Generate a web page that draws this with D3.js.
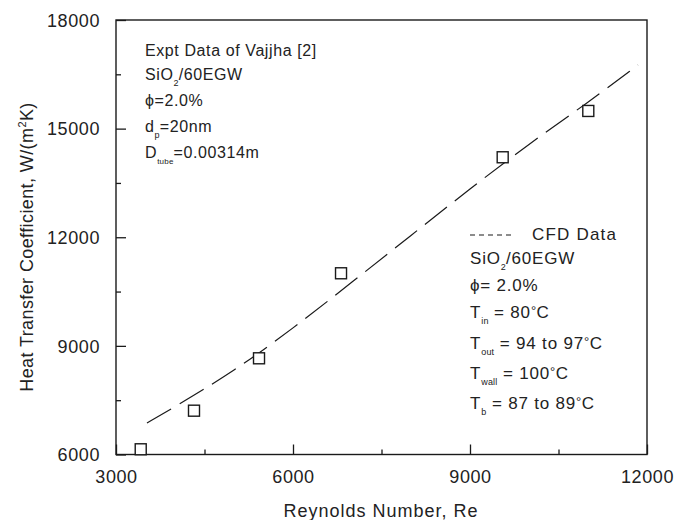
<!DOCTYPE html>
<html><head><meta charset="utf-8">
<script src="https://cdn.jsdelivr.net/npm/d3@7"></script>
<style>
html,body{margin:0;padding:0;background:#fff;}
svg{display:block;font-family:"Liberation Sans",Arial,sans-serif;}
</style></head>
<body><svg id="chart" width="675" height="520"></svg>
<script>
// ---- data ----
const exptRe = [3419, 4322, 5424, 6814, 9554, 11005];
const exptH  = [6144, 7210, 8657, 11005, 14209, 15488];
const cfdRe  = [3525, 4000, 5000, 6000, 7000, 8000, 9000, 10000, 11000, 11848];
const cfdH   = [6870, 7320, 8300, 9480, 10760, 12050, 13340, 14580, 15720, 16758];
const xTicks = [3000, 6000, 9000, 12000];
const xMinor = [4500, 7500, 10500];
const yTicks = [6000, 9000, 12000, 15000, 18000];
const yMinor = [7500, 10500, 13500, 16500];
const xTitle = "Reynolds Number, Re";
const yTitle = [{t:"Heat Transfer Coefficient, W/(m"},{t:"2",sup:true},{t:"K)"}];
const leftNotes = [
  [{t:"Expt Data of Vajjha [2]"}],
  [{t:"SiO"},{t:"2",sub:true},{t:"/60EGW"}],
  [{t:"\u03d5=2.0%"}],
  [{t:"d"},{t:"p",sub:true},{t:"=20nm"}],
  [{t:"D"},{t:"tube",sub:true,tiny:true},{t:"=0.00314m"}]
];
const rightNotes = [
  [{t:"SiO"},{t:"2",sub:true},{t:"/60EGW"}],
  [{t:"\u03d5= 2.0%"}],
  [{t:"T"},{t:"in",sub:true},{t:" = 80"},{t:"\u00b0",deg:true},{t:"C"}],
  [{t:"T"},{t:"out",sub:true},{t:" = 94 to 97"},{t:"\u00b0",deg:true},{t:"C"}],
  [{t:"T"},{t:"wall",sub:true},{t:" = 100"},{t:"\u00b0",deg:true},{t:"C"}],
  [{t:"T"},{t:"b",sub:true},{t:" = 87 to 89"},{t:"\u00b0",deg:true},{t:"C"}]
];
const cfdLabel = "CFD Data";

// ---- layout ----
const svg = d3.select("#chart");
const L = 116, R = 647, T = 20, B = 454.5;
const x = d3.scaleLinear().domain([3000, 12000]).range([L, R]);
const y = d3.scaleLinear().domain([6000, 18000]).range([B, T]);
const ink = "#1a1a1a";

// frame
svg.append("rect").attr("x", L).attr("y", T).attr("width", R - L).attr("height", B - T)
  .attr("fill", "none").attr("stroke", ink).attr("stroke-width", 1.4);

// axes
const xAx = svg.append("g").attr("transform", `translate(0,${B})`)
  .call(d3.axisBottom(x).tickValues(xTicks).tickSize(-10).tickPadding(16).tickFormat(d3.format("d")));
svg.append("g").attr("transform", `translate(0,${B})`)
  .call(d3.axisBottom(x).tickValues(xMinor).tickSize(-5).tickFormat(""));
const yAx = svg.append("g").attr("transform", `translate(${L},0)`)
  .call(d3.axisLeft(y).tickValues(yTicks).tickSize(-10).tickPadding(16).tickFormat(d3.format("d")));
svg.append("g").attr("transform", `translate(${L},0)`)
  .call(d3.axisLeft(y).tickValues(yMinor).tickSize(-5).tickFormat(""));
svg.selectAll(".domain").remove();
svg.selectAll(".tick line").attr("stroke", ink).attr("stroke-width", 1.3);
svg.selectAll(".tick text").attr("fill", "#222").attr("font-size", 18)
  .attr("font-family", "Liberation Sans, Arial, sans-serif").attr("letter-spacing", 0.6);
xAx.selectAll(".tick text").attr("dy", "0.71em");
yAx.selectAll(".tick text").attr("dy", "0.35em");

// titles
svg.append("text").attr("x", 381).attr("y", 517).attr("text-anchor", "middle")
  .attr("font-size", 18).attr("letter-spacing", 1).attr("fill", "#222").text(xTitle);
const yt = svg.append("text").attr("transform", "translate(33,247) rotate(-90)")
  .attr("text-anchor", "middle").attr("font-size", 18).attr("letter-spacing", 0.4).attr("fill", "#222");
yTitle.forEach(s => {
  const ts = yt.append("tspan").text(s.t);
  if (s.sup) ts.attr("font-size", 11).attr("dy", -7);
  else if (yt.selectAll("tspan").size() > 1) ts.attr("dy", 7);
});

function richLine(g, x0, y0, segs, fs, ls) {
  const t = g.append("text").attr("x", x0).attr("y", y0).attr("font-size", fs)
    .attr("letter-spacing", ls).attr("fill", "#222");
  let shift = 0;
  segs.forEach(s => {
    const ts = t.append("tspan").text(s.t);
    let target = 0;
    if (s.sub) { target = 6; ts.attr("font-size", s.tiny ? 8 : 9).attr("letter-spacing", 0.2); }
    else if (s.deg) { target = -3; ts.attr("font-size", 13).attr("letter-spacing", 0.5); }
    ts.attr("dy", target - shift);
    shift = target;
  });
  return t;
}

// left notes
const lg = svg.append("g");
const lBase = [56, 80, 106, 132, 158];
leftNotes.forEach((segs, i) => richLine(lg, 145, lBase[i], segs, 16, 0.6));

// right notes
const rg = svg.append("g");
const rBase = [264, 291, 318, 349, 379, 409];
rightNotes.forEach((segs, i) => richLine(rg, 470, rBase[i], segs, 17, 0.8));
// legend
rg.append("line").attr("x1", 470).attr("x2", 513).attr("y1", 235).attr("y2", 235)
  .attr("stroke", ink).attr("stroke-width", 1.2).attr("stroke-dasharray", "5,4");
rg.append("text").attr("x", 532).attr("y", 240).attr("font-size", 17).attr("letter-spacing", 1.2)
  .attr("fill", "#222").text(cfdLabel);

// CFD line
const cfd = cfdRe.map((d, i) => [d, cfdH[i]]);
svg.append("path").datum(cfd)
  .attr("d", d3.line().x(d => x(d[0])).y(d => y(d[1])).curve(d3.curveBasis))
  .attr("fill", "none").attr("stroke", ink).attr("stroke-width", 1.2)
  .attr("stroke-dasharray", "28,10");

// expt points
const expt = exptRe.map((d, i) => [d, exptH[i]]);
svg.append("g").selectAll("rect").data(expt).join("rect")
  .attr("x", d => x(d[0]) - 5.5).attr("y", d => y(d[1]) - 5.5)
  .attr("width", 11).attr("height", 11)
  .attr("fill", "#fff").attr("stroke", ink).attr("stroke-width", 1.4);
</script></body></html>
